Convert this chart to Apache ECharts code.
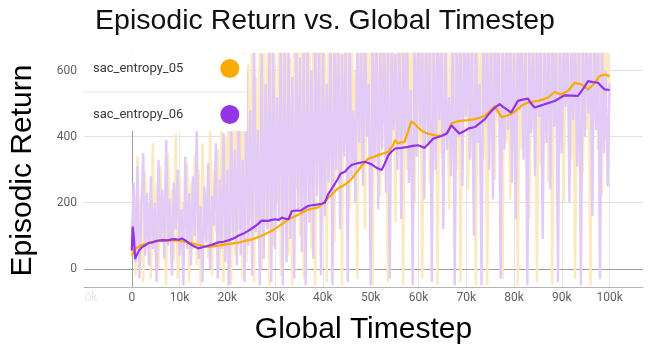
<!DOCTYPE html>
<html>
<head>
<meta charset="utf-8">
<script src="https://cdn.jsdelivr.net/npm/echarts@6/dist/echarts.min.js"></script>
<style>
  html, body { margin: 0; padding: 0; background: #fff; }
  #chart { width: 650px; height: 350px; }
</style>
</head>
<body>
<div id="chart"></div>
<script>
// Run names and colours
const seriesNames = ['sac_entropy_05', 'sac_entropy_06'];
const lineColors = ['#f9ab00', '#9334e6'];
const rawColors = ['#fde8bf', '#e2cbf7'];

// Raw per-episode returns, one entry every rawStepSize timesteps (0 .. 100k)
const rawStepSize = 400;
const raw05 = [
  40, 180, -20, 340, 60, 220, -40, 290, 100, 200,
  -30, 380, 50, 260, 0, 310, 80, 190, -50, 350,
  90, 240, 20, 410, -30, 280, 70, 200, 130, 320,
  -40, 260, 60, 350, 10, 300, -50, 380, 90, 230,
  30, 440, -20, 300, 110, 360, 0, 490, -40, 400,
  80, 560, -50, 470, 40, 650, 120, 520, -30, 700,
  20, 620, 150, 700, -40, 580, 90, 690, 0, 720,
  130, 650, -50, 720, 70, 600, 200, 700, -20, 680,
  160, 730, 40, 640, -50, 710, 240, 690, 100, 720,
  -30, 700, 280, 660, 60, 740, -50, 690, 320, 710,
  150, 730, -40, 700, 340, 650, 80, 720, 260, 690,
  -50, 740, 380, 700, 180, 720, 420, 600, -30, 730,
  300, 690, 120, 740, 400, 700, -50, 720, 350, 680,
  220, 730, 460, 700, -40, 740, 380, 690, 140, 720,
  430, 700, -50, 730, 300, 690, 470, 740, 200, 710,
  380, 720, -30, 690, 450, 740, 260, 700, 400, 730,
  -50, 710, 350, 740, 490, 690, 180, 720, 420, 700,
  300, 740, -40, 700, 460, 720, 240, 690, 500, 730,
  -50, 700, 400, 740, 330, 690, -50, 720, 470, 700,
  270, 740, 440, 690, -30, 730, 380, 700, 210, 720,
  480, 690, -50, 740, 360, 700, 500, 720, 150, 730,
  420, 700, -40, 740, 310, 690, 470, 720, 260, 700,
  -50, 730, 440, 690, 380, 740, 200, 700, 510, 720,
  330, 740, -30, 690, 460, 720, 290, 700, 420, 730,
  -50, 700, 480, 740, 360, 690, 220, 720, 500, 700,
  520
];
const raw06 = [
  80, 260, 20, 310, -30, 180, 350, 40, 230, 10,
  280, 60, 200, -40, 330, 90, 240, 30, 390, 70,
  210, -20, 260, 120, 300, 40, 180, -50, 340, 60,
  230, 10, 280, 100, 420, 30, 190, -40, 250, 80,
  320, 0, 220, 130, 380, -30, 270, 60, 410, 20,
  300, -50, 450, 90, 360, 10, 520, 40, 330, -40,
  600, 70, 480, -20, 700, 110, 420, -50, 650, 30,
  560, 120, 700, -40, 690, 60, 520, 150, 720, -50,
  660, 20, 710, 90, 580, -30, 700, 180, 640, 50,
  720, -50, 690, 140, 600, 30, 730, 220, 680, -20,
  700, 160, 560, 260, 720, -50, 690, 300, 740, 120,
  650, 340, 700, -40, 720, 280, 480, 200, 710, 380,
  690, 250, 740, 400, 560, -50, 700, 320, 730, 180,
  680, 360, 720, 230, 700, -30, 740, 420, 650, 300,
  730, 150, 690, 380, 720, 260, 540, -50, 710, 340,
  740, 430, 680, 210, 720, 380, 700, -40, 730, 300,
  690, 450, 740, 120, 700, 360, 520, 280, 720, -50,
  710, 400, 730, 250, 690, 460, 740, 330, 700, 100,
  720, 380, 560, -50, 730, 440, 690, 300, 740, 210,
  700, 470, 720, -30, 740, 360, 680, 420, 730, 260,
  690, 150, 740, 480, 700, 330, 720, -50, 660, 410,
  730, 280, 700, 460, 740, 90, 690, 380, 720, 240,
  740, 430, 700, -40, 730, 350, 690, 490, 720, 200,
  700, 450, 740, 310, 680, -50, 730, 400, 720, 470,
  690, 160, 740, 420, 700, -30, 720, 350, 600, 250,
  560
];

// Smoothed curves: timestep in thousands, smoothed return
const smoothSteps05 = [
  0, 0.3, 0.7, 1.3, 2.1, 3.0, 4.2, 5.5, 7.0, 8.5,
  10.0, 11.9, 13.0, 13.9, 15.0, 16.0, 17.0, 18.1, 19.2, 20.2,
  21.3, 22.3, 23.5, 25.1, 26.2, 27.2, 28.3, 29.3, 30.3, 31.4,
  32.8, 33.8, 34.9, 35.9, 36.9, 38.0, 39.0, 40.1, 41.1, 42.2,
  43.2, 44.3, 45.3, 46.0, 46.7, 47.4, 48.1, 48.8, 49.5, 50.5,
  51.6, 52.6, 53.7, 54.7, 55.1, 55.8, 56.4, 57.1, 57.8, 58.5,
  59.2, 59.9, 60.6, 61.3, 62.0, 63.4, 64.8, 66.2, 66.9, 68.0,
  69.0, 70.4, 71.8, 72.8, 73.9, 75.0, 76.0, 76.5, 77.0, 77.4,
  78.4, 79.4, 80.5, 81.5, 82.9, 84.0, 85.0, 86.0, 87.1, 88.5,
  89.2, 89.9, 91.3, 92.0, 92.7, 94.1, 95.5, 96.2, 96.9, 97.9,
  99.0, 100.0
];
const smooth05 = [
  40, 45, 60, 66, 72, 76, 80, 84, 87, 86,
  85, 80, 76, 72, 69, 66, 68, 70, 73, 75,
  77, 79, 84, 89, 95, 100, 108, 115, 124, 135,
  150, 157, 164, 172, 179, 182, 186, 200, 214, 230,
  244, 252, 262, 272, 285, 298, 312, 322, 334, 338,
  344, 349, 354, 374, 389, 379, 383, 384, 414, 446,
  439, 428, 419, 413, 409, 404, 402, 414, 440, 446,
  448, 450, 453, 457, 463, 478, 493, 480, 468, 459,
  463, 468, 480, 493, 503, 506, 508, 512, 518, 535,
  531, 528, 538, 550, 563, 558, 543, 552, 563, 583,
  588, 583
];
const smoothSteps06 = [
  0, 0.2, 0.45, 0.7, 1.0, 1.5, 2.1, 3.0, 3.5, 4.2,
  5.3, 6.3, 7.5, 8.3, 9.0, 9.8, 10.5, 11.3, 11.9, 13.0,
  13.9, 15.0, 16.0, 17.0, 18.1, 19.2, 20.2, 21.3, 22.3, 23.5,
  24.3, 25.1, 26.2, 27.2, 28.5, 29.3, 30.0, 30.8, 31.4, 32.1,
  32.8, 33.5, 34.5, 35.5, 36.2, 36.9, 38.0, 39.0, 39.7, 40.4,
  41.1, 42.2, 43.2, 43.7, 44.6, 45.3, 46.0, 47.4, 48.8, 49.5,
  50.2, 51.2, 52.3, 53.0, 53.7, 54.4, 55.1, 56.5, 57.8, 58.8,
  59.9, 60.6, 61.3, 62.2, 63.1, 64.0, 64.8, 65.9, 66.9, 67.7,
  68.6, 69.5, 70.4, 71.8, 72.8, 73.9, 74.6, 75.3, 76.2, 77.0,
  77.7, 78.4, 79.4, 80.1, 80.8, 81.8, 82.9, 83.6, 84.3, 85.4,
  86.4, 87.5, 88.5, 89.5, 90.6, 92.0, 93.4, 94.5, 95.5, 96.5,
  97.6, 98.3, 99.0, 100.0
];
const smooth06 = [
  55, 128, 90, 30, 40, 55, 65, 73, 78, 80,
  85, 87, 86, 89, 90, 88, 92, 85, 78, 68,
  62, 66, 70, 74, 80, 82, 86, 92, 100, 108,
  114, 122, 133, 146, 145, 148, 150, 148, 155, 152,
  150, 175, 176, 177, 184, 190, 193, 195, 197, 200,
  225, 250, 274, 288, 294, 305, 314, 320, 324, 320,
  316, 306, 299, 320, 344, 355, 364, 366, 369, 372,
  374, 370, 366, 380, 394, 398, 402, 409, 434, 422,
  409, 416, 424, 429, 440, 453, 466, 478, 490, 498,
  490, 483, 473, 490, 508, 512, 515, 500, 488, 493,
  498, 503, 508, 516, 525, 524, 523, 545, 568, 565,
  563, 552, 543, 541
];

// Axis extents and ticks
const xMin = -10000, xMax = 107000, xInterval = 10000;
const yMin = -55, yMax = 650;

const rawPairs = vals => vals.map((v, i) => [i * rawStepSize, v]);
const smoothPairs = (steps, vals) => steps.map((s, i) => [s * 1000, vals[i]]);

const chart = echarts.init(document.getElementById('chart'), null, { renderer: 'canvas' });

const rawLine = (idx, vals, extra) => Object.assign({
  type: 'line',
  name: seriesNames[idx] + ' (raw)',
  data: rawPairs(vals),
  showSymbol: false,
  symbol: 'none',
  silent: true,
  z: 2,
  lineStyle: { color: rawColors[idx], width: 2.4 },
  itemStyle: { color: rawColors[idx] }
}, extra || {});

const smoothLine = (idx, steps, vals) => ({
  type: 'line',
  name: seriesNames[idx],
  data: smoothPairs(steps, vals),
  showSymbol: false,
  symbol: 'none',
  silent: true,
  z: 3,
  lineStyle: { color: lineColors[idx], width: 2.2 },
  itemStyle: { color: lineColors[idx] }
});

chart.setOption({
  animation: false,
  backgroundColor: '#ffffff',
  title: {
    text: 'Episodic Return vs. Global Timestep',
    left: 'center',
    top: 2,
    textStyle: { fontFamily: 'Liberation Sans', fontSize: 28.5, fontWeight: 'normal', color: '#111' }
  },
  grid: { left: 82, right: 7, top: 54, bottom: 60, containLabel: false },
  legend: {
    data: seriesNames,
    orient: 'vertical',
    left: 93,
    top: 59,
    padding: 0,
    align: 'right',
    icon: 'circle',
    itemWidth: 19,
    itemHeight: 19,
    itemGap: 27,
    selectedMode: false,
    z: 60,
    textStyle: { fontFamily: 'Roboto', fontSize: 13, color: '#3a3a3a', padding: [0, 32, 0, 0] }
  },
  graphic: [
    { type: 'rect', z: 50, silent: true, shape: { x: 82, y: 54, width: 165, height: 77 }, style: { fill: '#ffffff' } },
    { type: 'line', z: 51, silent: true, shape: { x1: 83, y1: 92, x2: 247, y2: 92 }, style: { stroke: '#e3e3e3', lineWidth: 1 } }
  ],
  xAxis: {
    type: 'value',
    min: xMin,
    max: xMax,
    interval: xInterval,
    name: 'Global Timestep',
    nameLocation: 'middle',
    nameGap: 28,
    nameTextStyle: { fontFamily: 'Liberation Sans', fontSize: 30, color: '#000' },
    axisLine: { show: true, onZero: false, lineStyle: { color: '#b5b5b5', width: 1 } },
    axisTick: { show: false },
    axisLabel: {
      showMaxLabel: false,
      showMinLabel: true,
      margin: 5,
      fontFamily: 'Roboto',
      fontSize: 12,
      color: '#616161',
      formatter: v => v === xMin ? '{f|0k}' : (v === 0 ? '0' : (v / 1000) + 'k'),
      rich: { f: { color: '#e6e6e6', fontFamily: 'Roboto', fontSize: 12, padding: [0, 0, 0, 14] } }
    },
    splitLine: { show: true, showMinLine: false, showMaxLine: false, lineStyle: { color: '#e6e6e6', width: 1 } }
  },
  yAxis: {
    type: 'value',
    min: yMin,
    max: yMax,
    splitNumber: 3,
    name: 'Episodic Return',
    nameLocation: 'middle',
    nameGap: 46,
    nameTextStyle: { fontFamily: 'Liberation Sans', fontSize: 30, color: '#000' },
    axisLine: { show: true, lineStyle: { color: '#c4c4c4', width: 1 } },
    axisTick: { show: false },
    axisLabel: {
      showMinLabel: false,
      showMaxLabel: false,
      margin: 7,
      fontFamily: 'Roboto',
      fontSize: 12,
      color: '#616161'
    },
    splitLine: { show: true, showMinLine: false, showMaxLine: false, lineStyle: { color: '#e2e2e2', width: 1 } }
  },
  series: [
    rawLine(0, raw05, {
      markLine: {
        silent: true,
        symbol: 'none',
        z: 1,
        label: { show: false },
        lineStyle: { color: '#9e9e9e', type: 'solid', width: 1 },
        data: [{ yAxis: 0 }, { xAxis: 0 }]
      }
    }),
    rawLine(1, raw06),
    smoothLine(0, smoothSteps05, smooth05),
    smoothLine(1, smoothSteps06, smooth06)
  ]
});
</script>
</body>
</html>
